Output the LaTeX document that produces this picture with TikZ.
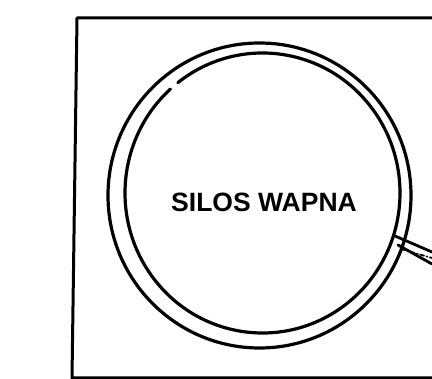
\documentclass[tikz,border=0pt]{standalone}
\usepackage{fontspec}
\setmainfont{Liberation Sans}
\begin{document}
\begin{tikzpicture}[x=1pt,y=-1pt,line join=round,line cap=round,
	wall/.style={line width=3pt},
	ring/.style={line width=3.2pt},
	pipe/.style={line width=2.8pt}]
	\def\W{432}\def\H{379}
	\useasboundingbox (0,0) rectangle (\W,\H);
	\draw[wall] (\W,18) -- (77,18) -- (72,378) -- (\W,378);
	\draw[ring] (259.5,195.5) ellipse[x radius=151.5,y radius=152.5];
	\draw[ring] (262.5,193) ++(232:137.5 and 140) arc[start angle=232,end angle=588,x radius=137.5,y radius=140];
	\node[font=\bfseries\fontsize{26.5}{30}\selectfont] (silo) at (264,202) {SILOS WAPNA};
	\draw[pipe] (395,236) -- (\W,252);
	\draw[pipe] (398,245) -- (\W,264);
	\draw[line width=1.8pt,dash pattern=on 4pt off 2.5pt on 1pt off 2.5pt] (401,249) -- (\W,258);
\end{tikzpicture}
\end{document}
